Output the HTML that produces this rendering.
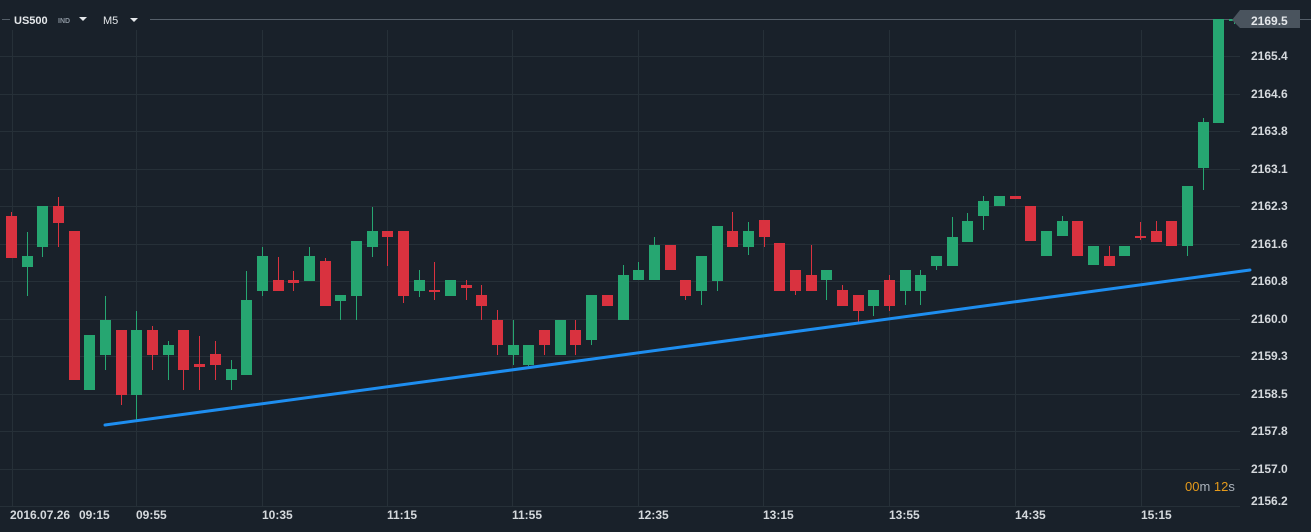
<!DOCTYPE html>
<html><head><meta charset="utf-8"><style>
html,body{margin:0;padding:0;background:#19212a;}
svg{display:block;font-family:"Liberation Sans",sans-serif;}
</style></head><body>
<svg id="c" width="1311" height="532" xmlns="http://www.w3.org/2000/svg">
<rect width="1311" height="532" fill="#19212a"/>
<g id="grid" stroke="#263038" stroke-width="1"></g>
<line x1="150" y1="19.5" x2="1311" y2="19.5" stroke="#56606a" stroke-width="1"/>
<line x1="2" y1="19.5" x2="10" y2="19.5" stroke="#56606a"/>
<text x="14" y="24" fill="#e4e7ea" font-size="11" font-weight="bold">US500</text>
<text x="58" y="23" fill="#8a949e" font-size="7" font-weight="bold">IND</text>
<path d="M79 17h8l-4 4z" fill="#e4e7ea"/>
<text x="103" y="24" fill="#e4e7ea" font-size="11">M5</text>
<path d="M130 18h8l-4 4z" fill="#e4e7ea"/>
<g id="candles"></g>
<line x1="105" y1="425" x2="1250" y2="270" stroke="#1e8ef0" stroke-width="3" stroke-linecap="round"/>
<path d="M1240 10h60v18h-60l-8-8z" fill="#4a545e"/>
<rect x="1232" y="0" width="79" height="10" fill="#19212a"/>
<g id="labels" fill="#d5d9dd" font-size="12" font-weight="bold"></g>
<text x="1185" y="491" font-size="13"><tspan fill="#e59a1a">00</tspan><tspan fill="#aab2ba">m </tspan><tspan fill="#e59a1a">12</tspan><tspan fill="#aab2ba">s</tspan></text>
<g fill="#d5d9dd" font-size="12" font-weight="bold">
<text x="10" y="519">2016.07.26</text><text x="79" y="519">09:15</text>
<text x="136" y="519">09:55</text><text x="262" y="519">10:35</text>
<text x="387" y="519">11:15</text><text x="512" y="519">11:55</text>
<text x="638" y="519">12:35</text><text x="763" y="519">13:15</text>
<text x="889" y="519">13:55</text><text x="1015" y="519">14:35</text>
<text x="1141" y="519">15:15</text>
</g>
</svg>
<script>
var ns="http://www.w3.org/2000/svg";
function el(p,t,a){var e=document.createElementNS(ns,t);for(var k in a)e.setAttribute(k,a[k]);p.appendChild(e);return e;}
var g=document.getElementById('grid');
[12,136,262,387,512,638,763,889,1015,1141].forEach(function(x){el(g,'line',{x1:x+.5,y1:30,x2:x+.5,y2:506,});});
var ys=[56,94,131,169,206,244,281,319,356,394,431,469,506];
ys.forEach(function(y){el(g,'line',{x1:0,y1:y+.5,x2:1240,y2:y+.5});});
var lab=document.getElementById('labels');
var lt=["2165.4","2164.6","2163.8","2163.1","2162.3","2161.6","2160.8","2160.0","2159.3","2158.5","2157.8","2157.0","2156.2"];
lt.forEach(function(t,i){var y=ys[i]+4; if(i==12)y=505; el(lab,'text',{x:1251,y:y}).textContent=t;});
el(lab,'text',{x:1251,y:25,fill:'#e4e7ea'}).textContent="2169.5";
// [color, bodyTop, bodyBottom, wickTop, wickBottom]
var C=[
['r',216,258,212,258],['g',256,267,232,296],['g',206,247,206,257],['r',206,223,197,247],
['r',231,380,231,380],['g',335,390,335,390],['g',320,355,296,370],['r',330,395,330,405],
['g',330,395,311,420],['r',330,355,326,370],['g',345,355,341,380],['r',330,370,330,390],
['r',364,367,336,390],['r',354,365,341,380],['g',369,380,360,390],['g',300,375,271,375],
['g',256,291,247,296],['r',280,291,257,291],['r',280,283,271,291],['g',256,281,247,281],
['r',261,306,258,306],['g',295,301,295,320],['g',241,296,241,320],['g',231,247,207,257],
['r',231,237,231,266],['r',231,296,231,303],['g',280,291,270,297],['r',290,292,262,300],
['g',280,296,280,296],['r',285,288,280,300],['r',295,306,285,320],['r',320,345,310,355],
['g',345,355,320,365],['g',345,365,345,366],['r',330,345,330,355],['g',320,355,320,355],
['r',330,345,320,355],['g',295,340,295,345],['r',295,306,295,306],['g',275,320,265,320],
['g',270,280,262,280],['g',245,280,237,280],['r',245,270,245,270],['r',280,296,280,300],
['g',256,291,256,305],['g',226,281,226,291],['r',231,247,212,247],['g',231,247,222,255],
['r',220,237,220,247],['r',243,291,243,291],['r',270,291,270,295],['r',275,291,245,291],
['g',270,280,270,300],['r',290,306,285,306],['r',295,311,295,322],['g',290,306,290,316],
['r',280,306,275,311],['g',270,291,270,305],['g',275,291,270,305],['g',256,266,256,270],
['g',237,266,217,266],['g',221,242,213,242],['g',201,216,196,230],['g',196,206,196,206],
['r',196,199,196,199],['r',206,241,206,241],['g',231,256,231,256],['g',221,236,216,236],
['r',221,256,221,256],['g',246,265,246,265],['r',256,266,246,266],['g',246,256,246,256],
['r',236,238,222,240],['r',231,242,221,242],['r',221,246,221,246],['g',186,246,186,256],
['g',122,168,118,190],['g',19,123,19,123],['g',19,21,19,24]
];
var cg=document.getElementById('candles');
C.forEach(function(c,i){
 var x=Math.round(11+i*15.68);
 var col=c[0]=='g'?'#26a671':'#d9323f';
 el(cg,'rect',{x:x,y:c[3],width:1,height:Math.max(1,c[4]-c[3]),fill:col});
 el(cg,'rect',{x:x-5,y:c[1],width:11,height:Math.max(2,c[2]-c[1]),fill:col});
});
</script>
</body></html>
